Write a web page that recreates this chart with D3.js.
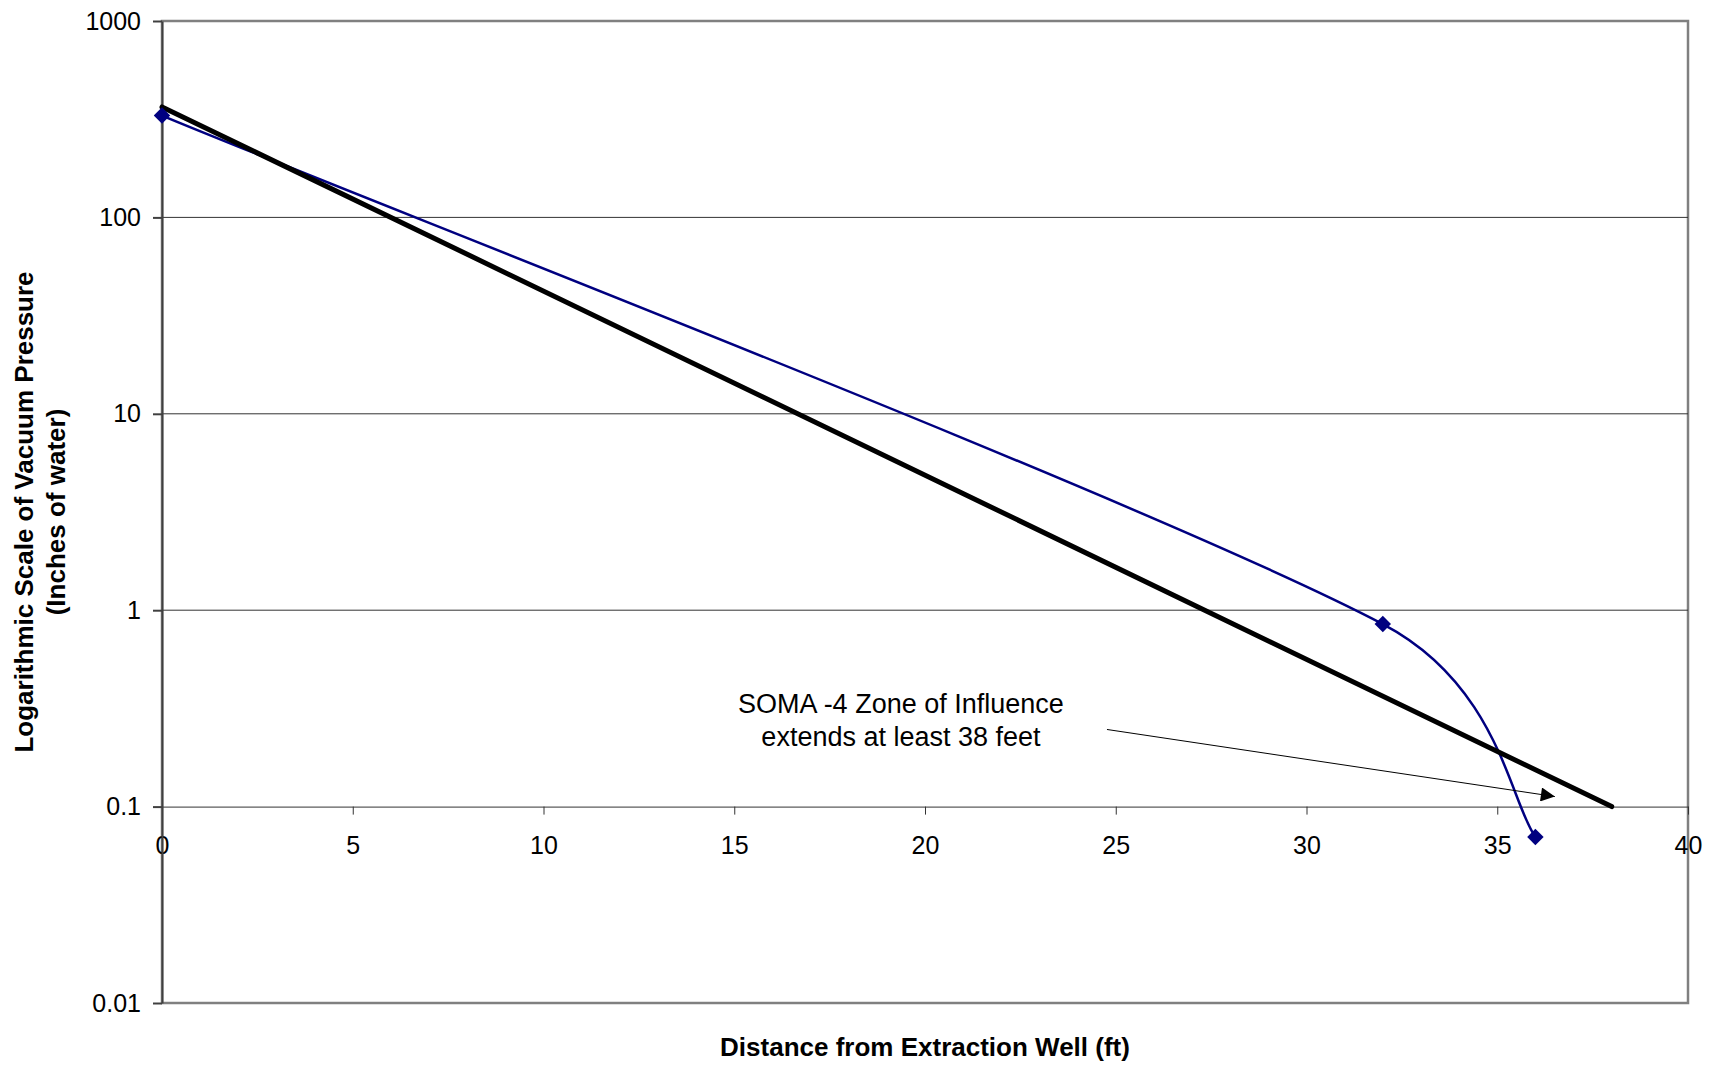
<!DOCTYPE html>
<meta charset="utf-8">
<style>
body { margin: 0; background: #fff; }
svg { font-family: "Liberation Sans", Arial, sans-serif; }
.tick text { font-size: 25px; fill: #000; }
.axis--y path, .axis--y line { stroke: #404040; stroke-width: 2; }
.axis--x path, .axis--x line { stroke: #333; stroke-width: 1; }
.grid line { stroke: #333; stroke-width: 1; }
.title { font-size: 26px; font-weight: bold; fill: #000; }
.note { font-size: 27px; fill: #000; }
</style>
<svg width="1717" height="1067"></svg>
<script src="https://d3js.org/d3.v7.min.js"></script>
<script>

// measured vacuum (SOMA-4)
var distance = [0, 32, 36];
var vacuum = [330, 0.85, 0.07];

// fitted log-linear line
var trendDistance = [0, 38];
var trendVacuum = [365, 0.1];

var xTicks = [0, 5, 10, 15, 20, 25, 30, 35, 40];
var yTicks = [0.01, 0.1, 1, 10, 100, 1000];
var yTickLabels = ["0.01", "0.1", "1", "10", "100", "1000"];

var noteLines = ["SOMA -4 Zone of Influence", "extends at least 38 feet"];

var svg = d3.select("svg"),
    margin = {top: 21, right: 29, bottom: 64, left: 162},
    width = +svg.attr("width") - margin.left - margin.right,
    height = +svg.attr("height") - margin.top - margin.bottom;

var x = d3.scaleLinear().domain([0, 40]).range([0, width]),
    y = d3.scaleLog().domain([0.01, 1000]).range([height, 0]);

var g = svg.append("g")
    .attr("transform", "translate(" + margin.left + "," + margin.top + ")");

// plot frame
g.append("rect")
    .attr("width", width)
    .attr("height", height)
    .attr("fill", "none")
    .attr("stroke", "#808080")
    .attr("stroke-width", 2.5);

g.append("g")
    .attr("class", "grid")
  .selectAll("line")
  .data([1, 10, 100])
  .enter().append("line")
    .attr("x1", 0)
    .attr("x2", width)
    .attr("y1", function(d) { return y(d); })
    .attr("y2", function(d) { return y(d); });

// x axis crosses at 0.1
g.append("g")
    .attr("class", "axis axis--x")
    .attr("transform", "translate(0," + y(0.1) + ")")
    .call(d3.axisBottom(x).tickValues(xTicks).tickFormat(d3.format("d"))
      .tickSizeInner(8).tickSizeOuter(0).tickPadding(22))
    .call(function(a) { a.selectAll("text").attr("font-family", null).attr("font-size", null); });

g.append("g")
    .attr("class", "axis axis--y")
    .call(d3.axisLeft(y).tickValues(yTicks)
      .tickFormat(function(d, i) { return yTickLabels[i]; })
      .tickSizeInner(9).tickSizeOuter(0).tickPadding(12))
    .call(function(a) {
      a.selectAll("text").attr("font-family", null).attr("font-size", null);
      a.selectAll(".tick line").attr("stroke-width", 1.5);
    });

// Excel-style smoothed curve
function excelSmooth(context) {
  var pts;
  function dist(a, b) { return Math.hypot(a[0] - b[0], a[1] - b[1]); }
  return {
    areaStart: function() {}, areaEnd: function() {},
    lineStart: function() { pts = []; },
    point: function(px, py) { pts.push([+px, +py]); },
    lineEnd: function() {
      var n = pts.length;
      if (!n) return;
      context.moveTo(pts[0][0], pts[0][1]);
      for (var i = 0; i < n - 1; i++) {
        var p0 = pts[Math.max(i - 1, 0)], p1 = pts[i], p2 = pts[i + 1], p3 = pts[Math.min(i + 2, n - 1)];
        var d12 = dist(p1, p2), d02 = dist(p0, p2), d13 = dist(p1, p3);
        var f1 = 1 / 6, f2 = 1 / 6;
        if (d02 / 6 >= d12 / 2) f1 = d12 / d02 / 2;
        if (d13 / 6 >= d12 / 2) f2 = d12 / d13 / 2;
        context.bezierCurveTo(
          p1[0] + (p2[0] - p0[0]) * f1, p1[1] + (p2[1] - p0[1]) * f1,
          p2[0] - (p3[0] - p1[0]) * f2, p2[1] - (p3[1] - p1[1]) * f2,
          p2[0], p2[1]);
      }
    }
  };
}

var measured = distance.map(function(d, i) { return {x: d, y: vacuum[i]}; });
var trend = trendDistance.map(function(d, i) { return {x: d, y: trendVacuum[i]}; });

var line = d3.line()
    .x(function(d) { return x(d.x); })
    .y(function(d) { return y(d.y); });

g.append("path")
    .datum(measured)
    .attr("fill", "none")
    .attr("stroke", "#000080")
    .attr("stroke-width", 2.5)
    .attr("d", line.curve(excelSmooth));

g.append("path")
    .datum(trend)
    .attr("fill", "none")
    .attr("stroke", "#000")
    .attr("stroke-width", 5)
    .attr("stroke-linecap", "round")
    .attr("d", line.curve(d3.curveLinear));

g.selectAll(".marker")
  .data(measured)
  .enter().append("path")
    .attr("class", "marker")
    .attr("fill", "#000080")
    .attr("transform", function(d) { return "translate(" + x(d.x) + "," + y(d.y) + ") rotate(45)"; })
    .attr("d", d3.symbol().type(d3.symbolSquare).size(135));

// annotation with arrow
svg.append("defs").append("marker")
    .attr("id", "arrow")
    .attr("viewBox", "0 0 10 10")
    .attr("refX", 10).attr("refY", 5)
    .attr("markerUnits", "userSpaceOnUse")
    .attr("markerWidth", 16).attr("markerHeight", 14)
    .attr("orient", "auto")
  .append("path")
    .attr("d", "M0,0L10,5L0,10Z")
    .attr("fill", "#000");

g.append("line")
    .attr("x1", x(24.77)).attr("y1", y(0.247))
    .attr("x2", x(36.51)).attr("y2", y(0.1125))
    .attr("stroke", "#000")
    .attr("stroke-width", 1)
    .attr("marker-end", "url(#arrow)");

g.append("text")
    .attr("class", "note")
    .attr("text-anchor", "middle")
  .selectAll("tspan")
  .data(noteLines)
  .enter().append("tspan")
    .attr("x", x(19.37))
    .attr("y", function(d, i) { return y(0.30) + i * 33; })
    .text(function(d) { return d; });

// axis titles
svg.append("text")
    .attr("class", "title")
    .attr("text-anchor", "middle")
    .attr("x", margin.left + width / 2)
    .attr("y", 1056)
    .text("Distance from Extraction Well (ft)");

var yt = svg.append("text")
    .attr("class", "title")
    .attr("text-anchor", "middle")
    .attr("transform", "translate(0," + (margin.top + height / 2) + ") rotate(-90)");
yt.append("tspan").attr("x", 0).attr("y", 33).text("Logarithmic Scale of Vacuum Pressure");
yt.append("tspan").attr("x", 0).attr("y", 65).text("(Inches of water)");

</script>
